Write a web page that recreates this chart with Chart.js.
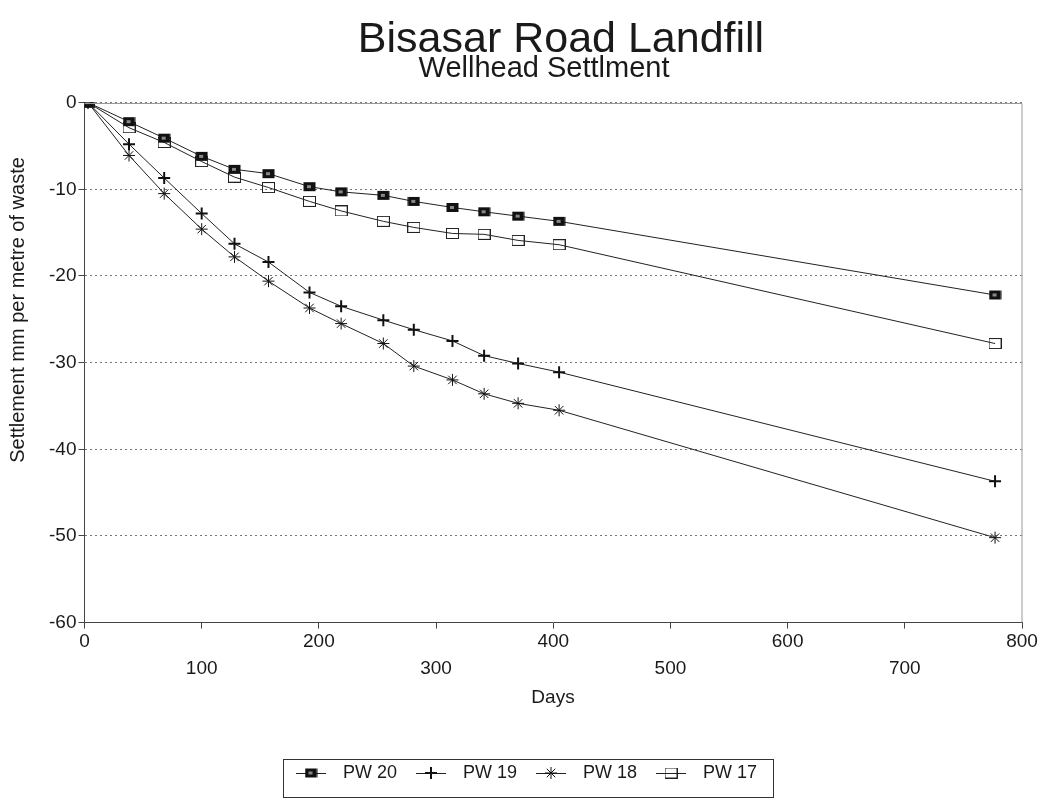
<!DOCTYPE html>
<html>
<head>
<meta charset="utf-8">
<script src="https://cdn.jsdelivr.net/npm/chart.js@4.4.1/dist/chart.umd.min.js"></script>
<style>
  html, body { margin: 0; padding: 0; background: #fff; }
  canvas { display: block; }
</style>
</head>
<body>
<canvas id="c" width="1047" height="802"></canvas>
<script>
// Days since first survey (shared by all four wells)
const days = [3, 38, 68, 100, 128, 157, 192, 219, 255, 281, 314, 341, 370, 405, 777];

// Settlement, mm per metre of waste
const pw20 = [0, -2.2, -4.1, -6.2, -7.7, -8.2, -9.7, -10.3, -10.7, -11.4, -12.1, -12.6, -13.1, -13.7, -22.2];
const pw19 = [0, -4.8, -8.7, -12.8, -16.3, -18.4, -21.9, -23.5, -25.1, -26.2, -27.5, -29.2, -30.1, -31.1, -43.7];
const pw18 = [0, -6.1, -10.5, -14.6, -17.8, -20.6, -23.7, -25.5, -27.8, -30.4, -32.0, -33.6, -34.7, -35.5, -50.2];
const pw17 = [0, -2.9, -4.6, -6.8, -8.6, -9.8, -11.4, -12.5, -13.7, -14.4, -15.1, -15.2, -15.9, -16.4, -27.8];

const xTicks = [0, 100, 200, 300, 400, 500, 600, 700, 800];
const yTicks = [0, -10, -20, -30, -40, -50, -60];

const FONT = '"Liberation Sans", Arial, Helvetica, sans-serif';
const INK = '#1a1a1a';

// little rectangle markers, a bit wider than tall like the original
function rectMarker(fill) {
  const cv = document.createElement('canvas');
  cv.width = 13; cv.height = 11;
  const g = cv.getContext('2d');
  if (fill) {
    g.fillStyle = '#111';
    g.fillRect(0.5, 1, 12, 9);
    g.fillStyle = '#888';
    g.fillRect(4, 4, 4, 3);
  } else {
    g.strokeStyle = '#222';
    g.lineWidth = 1;
    g.strokeRect(0.5, 0.5, 12, 10);
  }
  return cv;
}
const filledSq = rectMarker(true);
const openSq = rectMarker(false);

function series(label, data, style, radius, bw) {
  return {
    label,
    data: days.map((d, i) => ({ x: d, y: data[i] })),
    borderColor: '#222',
    borderWidth: 1,
    pointStyle: style,
    pointRadius: radius,
    pointHoverRadius: radius,
    pointBorderColor: '#111',
    pointBackgroundColor: '#111',
    pointBorderWidth: bw,
    tension: 0,
    fill: false,
  };
}

const datasets = [
  series('PW 20', pw20, filledSq, 6, 1),
  series('PW 19', pw19, 'cross', 6, 2),
  series('PW 18', pw18, 'star', 6, 1),
  series('PW 17', pw17, openSq, 6, 1),
];

// titles, frame and boxed legend drawn straight on the canvas
const decor = {
  id: 'decor',
  afterDraw(chart) {
    const { ctx, chartArea: a } = chart;
    ctx.save();
    // frame top + right
    ctx.strokeStyle = '#999';
    ctx.lineWidth = 1;
    ctx.beginPath();
    ctx.moveTo(a.left, Math.round(a.top) + 0.5);
    ctx.lineTo(a.right, Math.round(a.top) + 0.5);
    ctx.lineTo(a.right, a.bottom);
    ctx.stroke();

    ctx.fillStyle = INK;
    ctx.textAlign = 'center';
    ctx.textBaseline = 'alphabetic';
    ctx.font = `43px ${FONT}`;
    ctx.fillText('Bisasar Road Landfill', 561, 52);
    ctx.font = `29px ${FONT}`;
    ctx.fillText('Wellhead Settlment', 544, 77);

    ctx.font = `19px ${FONT}`;
    ctx.textBaseline = 'middle';
    ctx.fillText('Days', 553, 698);

    ctx.save();
    ctx.translate(18, 310);
    ctx.rotate(-Math.PI / 2);
    ctx.font = `20px ${FONT}`;
    ctx.fillText('Settlement mm per metre of waste', 0, 0);
    ctx.restore();

    // legend
    ctx.strokeStyle = '#333';
    ctx.strokeRect(283.5, 759.5, 490, 38);
    const ly = 773;
    ctx.font = `18px ${FONT}`;
    ctx.textAlign = 'left';
    chart.data.datasets.forEach((ds, i) => {
      const mx = 311 + i * 120;
      ctx.strokeStyle = '#222';
      ctx.lineWidth = 1;
      ctx.beginPath();
      ctx.moveTo(mx - 15, ly + 0.5);
      ctx.lineTo(mx + 15, ly + 0.5);
      ctx.stroke();
      ctx.fillStyle = '#111';
      ctx.strokeStyle = '#111';
      ctx.lineWidth = ds.pointBorderWidth;
      Chart.helpers.drawPoint(ctx, {
        pointStyle: ds.pointStyle, radius: ds.pointRadius, rotation: 0, borderWidth: ds.pointBorderWidth,
      }, mx, ly);
      ctx.fillStyle = INK;
      ctx.fillText(ds.label, mx + 32, ly);
    });
    ctx.restore();
  },
};

new Chart(document.getElementById('c'), {
  type: 'line',
  data: { datasets },
  options: {
    responsive: false,
    animation: false,
    layout: { padding: { top: 102.6, right: 25, bottom: 0, left: 0 } },
    plugins: {
      legend: { display: false },
      title: { display: false },
      tooltip: { enabled: false },
    },
    scales: {
      x: {
        type: 'linear',
        min: 0,
        max: 800,
        afterBuildTicks(scale) { scale.ticks = xTicks.map((v) => ({ value: v })); },
        afterFit(scale) { scale.height = 179.4; },
        border: { color: '#444', width: 1 },
        grid: { drawOnChartArea: false, tickLength: 6, color: '#444' },
        ticks: {
          padding: 0,
          maxRotation: 0,
          autoSkip: false,
          color: INK,
          font: { family: FONT, size: 19, lineHeight: 1.4 },
          // alternate labels drop to a second row, as in the original
          callback: (v) => (v % 200 === 0 ? String(v) : ['', String(v)]),
        },
      },
      y: {
        min: -60,
        max: 0,
        afterBuildTicks(scale) { scale.ticks = yTicks.map((v) => ({ value: v })); },
        afterFit(scale) { scale.width = 84.5; },
        // in v4 border.dash is what dashes the grid lines
        border: { color: '#444', width: 1, dash: [2, 3] },
        grid: {
          color: '#777',
          tickLength: 6,
          tickColor: '#444',
          tickBorderDash: [],
        },
        ticks: {
          padding: 2,
          color: INK,
          font: { family: FONT, size: 19 },
        },
      },
    },
  },
  plugins: [decor],
});
</script>
</body>
</html>
